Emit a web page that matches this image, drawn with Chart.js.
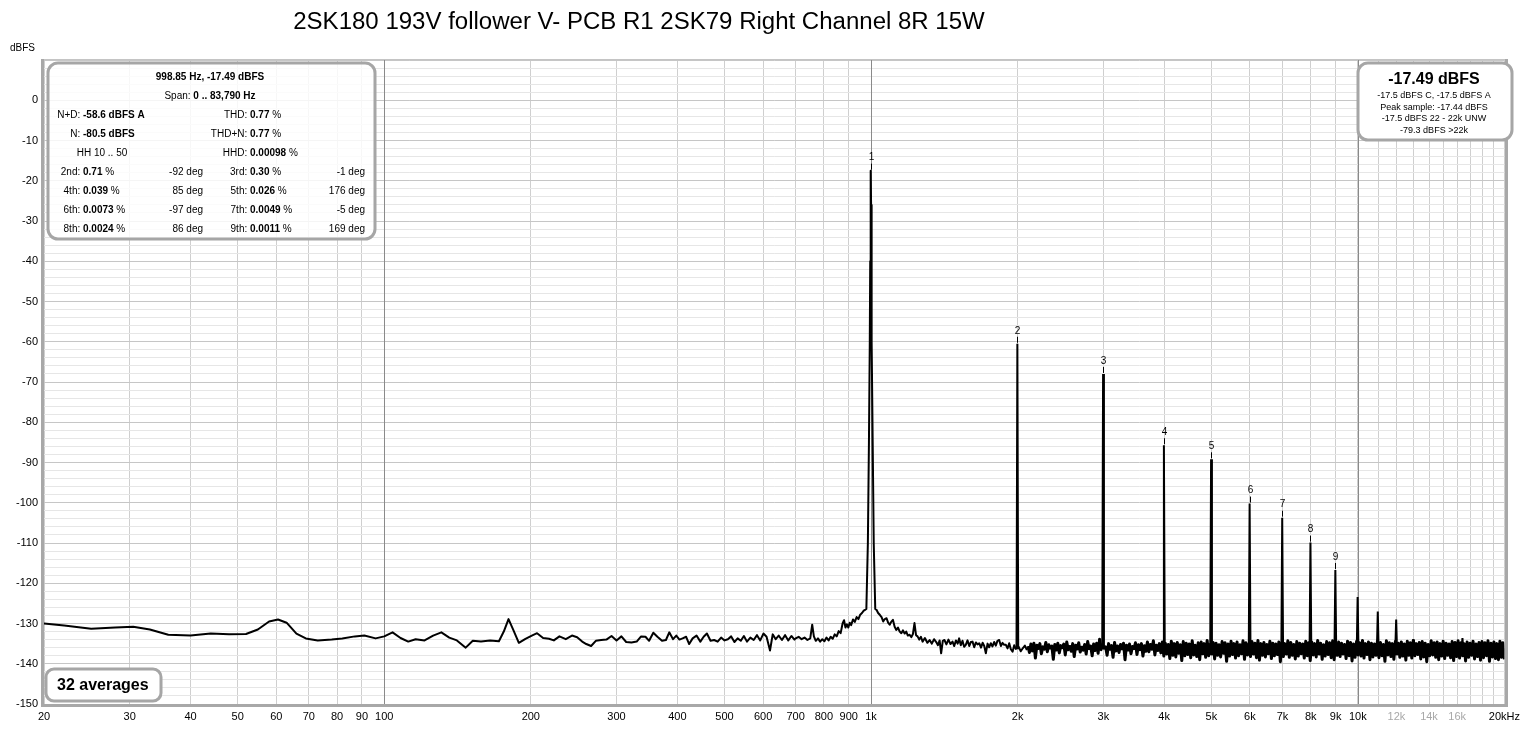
<!DOCTYPE html>
<html>
<head>
<meta charset="utf-8">
<title>2SK180 193V follower spectrum</title>
<script src="https://cdn.jsdelivr.net/npm/chart.js@4.4.1/dist/chart.umd.min.js"></script>
<style>
  html, body { margin: 0; padding: 0; background: #fff; }
  #wrap { width: 1526px; height: 729px; }
</style>
</head>
<body>
<div id="wrap"><canvas id="myChartArea" width="1526" height="729"></canvas></div>
<script>
var chartTitle = '2SK180 193V follower V- PCB R1 2SK79 Right Channel 8R 15W';
var FONT = '"Liberation Sans", Arial, sans-serif';

// spectrum, 20 Hz .. 2.1 kHz
var curveHz = [
  20, 22, 25, 28, 30.5, 33, 36, 40, 44, 48, 52, 55, 58, 60.5, 63, 66, 69, 73, 78, 82,
  87, 91, 96, 100, 104, 108, 112, 116, 121, 126, 131, 136, 141, 147, 152, 158, 165, 172, 176, 180,
  184, 189, 195, 201, 206, 212, 218, 223, 229, 236, 243, 249,
  255, 260, 266, 272, 279, 286, 293, 300, 307, 314, 322, 330, 337, 344, 350, 357, 364, 372,
  379, 385, 392, 398, 404, 410, 417, 423, 430, 438, 446, 453, 460, 468, 476, 484, 492, 500,
  508, 516, 524, 532, 540, 548, 556, 565, 574, 583, 592, 601, 610, 620, 628, 637, 646, 656,
  666, 676, 686, 696,
  700, 710, 720, 730, 740, 750, 757, 763, 770, 778, 786, 794, 802, 810, 818, 826, 834, 842,
  850, 858, 866, 874, 880, 886, 892, 898, 904, 910, 918, 926, 934, 942, 950, 958, 966, 972,
  978, 985, 990, 994, 996, 997.5, 998.85, 1000.2, 1001.7, 1003.7, 1007.7, 1012.7, 1020,
  1026, 1034, 1043, 1051, 1059, 1067, 1076, 1084, 1092, 1100, 1109, 1118, 1127, 1136, 1145, 1154,
  1163, 1172, 1181, 1190, 1200, 1210, 1219, 1228, 1237, 1246, 1256, 1266, 1276,
  1290, 1305, 1319, 1333, 1347, 1361, 1372, 1383, 1393, 1404, 1415, 1428, 1442, 1456, 1470, 1482,
  1494, 1506, 1517, 1529, 1541, 1553, 1565, 1578, 1591, 1603, 1616, 1629, 1642, 1655, 1668, 1682,
  1695, 1708, 1721, 1735, 1748, 1762, 1776, 1790, 1804, 1818, 1833, 1848, 1862, 1877, 1892, 1907,
  1922, 1937, 1953, 1968, 1983, 2010, 2030, 2051, 2070, 2090
];
var curveDb = [
  -130.0, -130.5, -131.3, -131.0, -130.8, -131.5, -132.8, -133.0, -132.5, -132.7, -132.6, -131.5, -129.5, -129.0, -129.8, -132.5, -133.7, -134.2, -134.0, -133.7,
  -133.2, -133.0, -133.7, -133.2, -132.2, -133.6, -134.5, -133.9, -134.2, -133.0, -132.2, -133.5, -134.2, -136.0, -134.3, -134.5, -134.2, -134.4, -132.0, -128.9,
  -131.5, -134.8, -133.8, -133.0, -132.4, -133.6, -133.8, -134.2, -133.2, -133.9, -133.0, -133.4,
  -134.5, -135.1, -135.6, -134.3, -134.1, -134.0, -133.1, -134.2, -133.2, -134.6, -134.7, -134.5, -133.2, -133.3, -134.3, -132.3, -133.3, -134.3,
  -134.1, -132.2, -133.9, -133.0, -134.0, -133.7, -133.3, -135.1, -133.7, -133.0, -134.5, -133.3, -132.5, -134.3, -134.1, -134.5, -133.5, -134.2,
  -133.9, -133.2, -134.6, -133.7, -134.3, -133.1, -134.5, -133.5, -134.1, -132.9, -134.2, -132.5, -133.3, -136.7, -132.7, -133.9, -133.0, -134.1,
  -132.9, -134.2, -133.1, -134.0,
  -133.7, -133.3, -133.9, -133.5, -134.1, -133.7, -130.3, -133.2, -134.3, -133.7, -134.5, -133.9, -134.4, -133.5, -134.2, -133.3, -133.8, -132.7,
  -133.2, -131.9, -132.4, -130.0, -129.2, -131.0, -130.2, -131.0, -129.8, -130.4, -129.0, -129.6, -128.4, -128.9, -127.8, -127.4, -126.8, -126.6,
  -126.4, -110, -85, -60, -40, -26, -17.49, -26, -40, -60, -85, -110, -126.4,
  -126.6, -127.4, -127.9, -128.4, -129.5, -128.9, -128.7, -129.8, -130.3, -129.6, -129.1, -130.8, -131.6, -131.0, -132.0, -132.4,
  -131.7, -132.5, -132.0, -133.0, -132.8, -133.4, -132.6, -129.9, -132.9, -133.2, -134.0, -133.3, -134.5,
  -133.6, -134.8, -134.1, -135.0, -133.9, -134.6, -135.4, -134.2, -137.4, -134.3, -134.1, -135.2, -134.0, -135.1, -134.5, -135.6,
  -134.2, -135.0, -133.7, -135.4, -134.3, -135.8, -135.3, -134.2, -135.6, -134.6, -134.5, -135.9, -134.7, -135.2, -134.9, -136.0,
  -134.8, -135.6, -137.4, -135.0, -135.9, -134.9, -135.7, -134.6, -135.5, -134.3, -134.1, -135.6, -134.8, -135.3, -135.3, -136.2,
  -134.9, -136.4, -137.0, -135.4, -136.3, -135.8, -136.9, -136.1, -135.5, -136.6
];

// noise floor 2.1 kHz .. 20 kHz, read left to right, one value per step on the log axis
var floorStartHz = 2100;
var floorEndHz = 20000;
var floorDb = [
  -135.6, -137.2, -135.1, -136.8, -134.9, -138.6, -135.4, -136.2, -135.0, -137.5,
  -135.8, -136.4, -134.7, -137.0, -135.3, -136.1, -135.6, -138.9, -135.2, -136.6,
  -134.9, -137.3, -135.5, -136.0, -135.1, -137.8, -134.6, -136.5, -135.7, -136.9,
  -135.0, -138.2, -135.4, -136.3, -134.8, -137.1, -135.9, -136.6, -135.2, -137.6,
  -134.5, -136.2, -135.6, -138.0, -135.1, -136.7, -134.9, -137.4, -133.9, -136.5,
  -135.3, -136.1, -135.8, -137.9, -135.0, -136.4, -135.5, -138.4, -134.7, -136.8,
  -135.6, -137.2, -135.2, -136.3, -134.9, -139.0, -135.4, -136.6, -135.1, -137.5,
  -135.7, -136.2, -134.8, -137.7, -135.3, -136.5, -135.0, -138.1, -135.5, -136.9,
  -134.6, -137.0, -135.2, -136.4, -134.3, -137.8, -135.4, -136.7, -135.0, -137.3,
  -134.6, -138.1, -134.9, -137.6, -135.2, -138.7, -134.4, -137.9, -135.0, -138.3,
  -134.7, -137.4, -135.3, -139.2, -134.5, -138.0, -134.9, -137.7, -135.1, -138.5,
  -134.3, -137.8, -135.4, -138.2, -134.8, -139.0, -134.6, -137.5, -135.0, -138.4,
  -134.2, -138.0, -135.2, -137.6, -134.7, -138.8, -134.9, -137.9, -135.3, -138.3,
  -134.5, -137.4, -134.8, -139.4, -135.1, -138.1, -134.4, -137.7, -135.0, -138.6,
  -134.6, -138.0, -135.3, -137.5, -134.3, -138.9, -134.8, -137.8, -135.1, -138.2,
  -134.5, -137.6, -134.9, -138.5, -134.2, -139.1, -135.0, -137.9, -134.7, -138.3,
  -135.2, -137.5, -134.4, -138.7, -134.9, -138.0, -135.1, -137.7, -134.6, -139.5,
  -134.8, -138.2, -135.0, -137.6, -134.3, -138.4, -134.7, -137.9, -135.2, -138.8,
  -134.5, -138.1, -134.9, -137.5, -135.1, -138.6, -134.4, -138.0, -134.8, -139.2,
  -134.6, -137.8, -135.0, -138.3, -134.2, -137.6, -134.9, -138.9, -135.3, -138.1,
  -134.5, -137.7, -134.8, -138.5, -134.3, -139.0, -135.0, -137.9, -134.6, -138.2,
  -134.9, -137.6, -135.2, -138.7, -134.4, -138.0, -134.7, -139.3, -135.1, -138.4,
  -134.5, -137.8, -134.8, -138.1, -134.2, -138.6, -135.0, -137.7, -134.6, -139.0,
  -134.9, -138.3, -135.1, -137.9, -134.4, -138.5, -134.7, -138.0, -135.2, -139.4,
  -134.3, -137.8, -134.8, -138.2, -135.0, -138.9, -134.5, -137.6, -134.9, -138.4,
  -134.6, -138.1, -135.1, -139.1, -134.4, -137.9, -134.8, -138.6, -134.2, -138.0,
  -135.0, -137.7, -134.7, -138.8, -134.5, -138.3, -134.9, -139.5, -135.2, -138.0,
  -134.3, -137.8, -134.8, -138.4, -134.6, -139.0, -135.0, -138.1, -134.4, -138.7,
  -134.9, -137.9, -135.1, -138.5, -134.5, -139.2, -134.7, -138.2, -134.3, -138.6,
  -134.8, -138.0, -135.0, -139.3, -134.6, -138.4, -134.9, -137.9, -134.4, -138.8,
  -135.1, -138.2, -134.7, -139.1, -134.5, -138.5, -134.8, -138.0, -134.3, -139.4,
  -134.9, -138.3, -134.6, -138.7, -135.0, -139.0, -134.4, -138.4, -134.8, -138.9
];

// fundamental + harmonics, then two small spurs
var harmHz = [998.85, 1997.7, 2996.55, 3995.4, 4994.25, 5993.1, 6991.95, 7990.8, 8989.65, 9988.5, 10987.35, 11986.2, 12985.05, 16400];
var harmDb = [-17.49, -60.5, -68.0, -85.7, -89.2, -100.2, -103.7, -109.9, -116.7, -123.4, -127.0, -129.0, -134.0, -133.6];
var harmLabel = ['1', '2', '3', '4', '5', '6', '7', '8', '9'];

// axis ticks
var xTickHz = [20, 30, 40, 50, 60, 70, 80, 90, 100, 200, 300, 400, 500, 600, 700, 800, 900,
  1000, 2000, 3000, 4000, 5000, 6000, 7000, 8000, 9000, 10000, 11000, 12000, 13000, 14000,
  15000, 16000, 17000, 18000, 19000, 20000];
var xTickText = ['20', '30', '40', '50', '60', '70', '80', '90', '100', '200', '300', '400', '500', '600', '700', '800', '900',
  '1k', '2k', '3k', '4k', '5k', '6k', '7k', '8k', '9k', '10k', '', '12k', '', '14k',
  '', '16k', '', '', '', '20kHz'];
var xDimText = ['12k', '14k', '16k'];
var xDarkHz = [100, 1000, 10000];
var yLabelDb = [0, -10, -20, -30, -40, -50, -60, -70, -80, -90, -100, -110, -120, -130, -140, -150];

// info boxes
var infoHead = '998.85 Hz, -17.49 dBFS';
var infoSpan = [['Span: ', false], ['0 .. 83,790 Hz', true]];
var infoRows = [
  ['N+D:', '-58.6 dBFS A', '', '', 'THD:', '0.77', ' %', ''],
  ['N:', '-80.5 dBFS', '', '', 'THD+N:', '0.77', ' %', ''],
  ['', '', '', '', 'HHD:', '0.00098', ' %', ''],
  ['2nd:', '0.71', ' %', '-92 deg', '3rd:', '0.30', ' %', '-1 deg'],
  ['4th:', '0.039', ' %', '85 deg', '5th:', '0.026', ' %', '176 deg'],
  ['6th:', '0.0073', ' %', '-97 deg', '7th:', '0.0049', ' %', '-5 deg'],
  ['8th:', '0.0024', ' %', '86 deg', '9th:', '0.0011', ' %', '169 deg']
];
var infoHH = 'HH 10 .. 50';
var levelMain = '-17.49 dBFS';
var levelLines = ['-17.5 dBFS C, -17.5 dBFS A', 'Peak sample: -17.44 dBFS', '-17.5 dBFS 22 - 22k UNW', '-79.3 dBFS >22k'];
var averagesText = '32 averages';

// ---- build datasets ----
var curvePts = curveHz.map(function (f, i) { return { x: f, y: curveDb[i] }; });

var floorPts = [];
var span = Math.log(floorEndHz / floorStartHz);
for (var i = 0; i < floorDb.length; i++) {
  floorPts.push({ x: floorStartHz * Math.exp(span * i / (floorDb.length - 1)), y: floorDb[i] });
}

var spikePts = [];
for (var h = 1; h < harmHz.length; h++) {
  spikePts.push({ x: harmHz[h] * 0.996, y: -136.2 });
  spikePts.push({ x: harmHz[h], y: harmDb[h] });
  spikePts.push({ x: harmHz[h] * 1.004, y: -136.4 });
  spikePts.push({ x: harmHz[h] * 1.005, y: null });
}

function drawRuns(ctx, parts, x, y, align, size) {
  var w = 0;
  parts.forEach(function (p) {
    ctx.font = (p[1] ? 'bold ' : '') + size + 'px ' + FONT;
    w += ctx.measureText(p[0]).width;
  });
  var cx = align === 'center' ? x - w / 2 : (align === 'right' ? x - w : x);
  ctx.textAlign = 'left';
  parts.forEach(function (p) {
    ctx.font = (p[1] ? 'bold ' : '') + size + 'px ' + FONT;
    ctx.fillText(p[0], cx, y);
    cx += ctx.measureText(p[0]).width;
  });
}

function roundBox(ctx, x, y, w, hgt, r, fill) {
  ctx.beginPath();
  ctx.moveTo(x + r, y);
  ctx.arcTo(x + w, y, x + w, y + hgt, r);
  ctx.arcTo(x + w, y + hgt, x, y + hgt, r);
  ctx.arcTo(x, y + hgt, x, y, r);
  ctx.arcTo(x, y, x + w, y, r);
  ctx.closePath();
  ctx.fillStyle = fill;
  ctx.fill();
  ctx.lineWidth = 3;
  ctx.strokeStyle = '#a6a6a6';
  ctx.stroke();
}

var decorations = {
  id: 'decorations',
  beforeDatasetsDraw: function (chart) {
    // decade lines stay solid over the light grid
    var ctx = chart.ctx, xs = chart.scales.x, a = chart.chartArea;
    ctx.save();
    ctx.strokeStyle = '#8a8a8a';
    ctx.lineWidth = 1;
    xDarkHz.forEach(function (v) {
      var px = Math.round(xs.getPixelForValue(v)) + 0.5;
      ctx.beginPath();
      ctx.moveTo(px, a.top);
      ctx.lineTo(px, a.bottom);
      ctx.stroke();
    });
    ctx.restore();
  },
  afterDatasetsDraw: function (chart) {
    var ctx = chart.ctx, xs = chart.scales.x, ys = chart.scales.y;
    ctx.save();
    ctx.fillStyle = '#000';
    ctx.textBaseline = 'middle';

    // peak numbers
    ctx.font = '10px ' + FONT;
    ctx.textAlign = 'center';
    ctx.strokeStyle = '#000';
    ctx.lineWidth = 1;
    for (var k = 0; k < harmLabel.length; k++) {
      var px = Math.round(xs.getPixelForValue(harmHz[k])) + 0.5;
      var py = ys.getPixelForValue(harmDb[k]);
      ctx.fillText(harmLabel[k], px, py - 13);
      ctx.beginPath();
      ctx.moveTo(px, py - 7);
      ctx.lineTo(px, py - 1);
      ctx.stroke();
    }

    // frame
    ctx.fillStyle = '#c4c4c4';
    ctx.fillRect(44, 59, 1461, 1);
    ctx.fillStyle = '#a8a8a8';
    ctx.fillRect(41, 59, 3, 648);
    ctx.fillRect(41, 704, 1467, 3);
    ctx.fillRect(1505, 59, 3, 648);

    // title and axis unit
    ctx.fillStyle = '#000';
    ctx.font = '20px ' + FONT;
    var tw = ctx.measureText(chartTitle).width;
    ctx.font = (20 * 692 / tw).toFixed(2) + 'px ' + FONT;
    ctx.textAlign = 'center';
    ctx.fillText(chartTitle, 639, 22);
    ctx.font = '10px ' + FONT;
    ctx.textAlign = 'left';
    ctx.fillText('dBFS', 10, 48);

    // measurement box
    roundBox(ctx, 48, 63, 327, 176, 10, 'rgba(255,255,255,0.82)');
    ctx.fillStyle = '#000';
    drawRuns(ctx, [[infoHead, true]], 210, 77, 'center', 10);
    drawRuns(ctx, infoSpan, 210, 96, 'center', 10);
    for (var r = 0; r < infoRows.length; r++) {
      var row = infoRows[r], ry = 115 + r * 19;
      if (row[0]) drawRuns(ctx, [[row[0] + ' ', false]], 83, ry, 'right', 10);
      if (row[1]) drawRuns(ctx, [[row[1], true], [row[2], false]], 83, ry, 'left', 10);
      if (row[3]) drawRuns(ctx, [[row[3], false]], 203, ry, 'right', 10);
      drawRuns(ctx, [[row[4] + ' ', false]], 250, ry, 'right', 10);
      drawRuns(ctx, [[row[5], true], [row[6], false]], 250, ry, 'left', 10);
      if (row[7]) drawRuns(ctx, [[row[7], false]], 365, ry, 'right', 10);
    }
    drawRuns(ctx, [[infoHH, false]], 102, 153, 'center', 10);

    // level box
    roundBox(ctx, 1358, 63, 154, 77, 10, '#fff');
    ctx.fillStyle = '#000';
    drawRuns(ctx, [[levelMain, true]], 1434, 80, 'center', 16);
    for (var l = 0; l < levelLines.length; l++) {
      drawRuns(ctx, [[levelLines[l], false]], 1434, 96 + l * 11.5, 'center', 9);
    }

    // averages box
    roundBox(ctx, 46, 669, 115, 32, 8, '#fff');
    ctx.fillStyle = '#000';
    drawRuns(ctx, [[averagesText, true]], 57, 686, 'left', 16);
    ctx.restore();
  }
};

var ctx_spec = document.getElementById('myChartArea');
var chart_spec = new Chart(ctx_spec, {
  type: 'line',
  data: {
    datasets: [
      { data: curvePts, borderColor: '#000', borderWidth: 2, borderJoinStyle: 'round', pointRadius: 0, tension: 0 },
      { data: floorPts, borderColor: '#000', borderWidth: 3, borderJoinStyle: 'round', pointRadius: 0, tension: 0 },
      { data: spikePts, borderColor: '#000', borderWidth: 2, borderJoinStyle: 'bevel', pointRadius: 0, tension: 0, spanGaps: false }
    ]
  },
  options: {
    responsive: false,
    animation: false,
    events: [],
    layout: { padding: { top: 60, right: 21, left: 0, bottom: 0 } },
    plugins: { legend: { display: false }, title: { display: false }, tooltip: { enabled: false } },
    scales: {
      x: {
        type: 'logarithmic',
        min: 20,
        max: 20000,
        afterBuildTicks: function (s) { s.ticks = xTickHz.map(function (v) { return { value: v }; }); },
        afterFit: function (s) { s.height = 25; },
        border: { display: false },
        grid: {
          drawTicks: false,
          lineWidth: 1,
          color: '#cfcfcf'
        },
        ticks: {
          autoSkip: false,
          maxRotation: 0,
          padding: 6,
          font: { family: FONT, size: 11 },
          color: function (c) {
            var t = xTickText[xTickHz.indexOf(c.tick.value)];
            return xDimText.indexOf(t) >= 0 ? '#a8a8a8' : '#000';
          },
          callback: function (v) {
            var i = xTickHz.indexOf(v);
            return i >= 0 ? xTickText[i] : '';
          }
        }
      },
      y: {
        type: 'linear',
        min: -150,
        max: 10,
        afterBuildTicks: function (s) {
          var t = [];
          for (var v = -150; v <= 10; v += 2) t.push({ value: v });
          s.ticks = t;
        },
        afterFit: function (s) { s.width = 44; },
        border: { display: false },
        grid: {
          drawTicks: false,
          color: function (c) {
            var v = c.tick ? c.tick.value : 1;
            return v % 10 === 0 ? '#c6c6c6' : '#e6e6e6';
          }
        },
        ticks: {
          autoSkip: false,
          padding: 6,
          font: { family: FONT, size: 11 },
          color: '#000',
          callback: function (v) { return yLabelDb.indexOf(v) >= 0 ? String(v) : ''; }
        }
      }
    }
  },
  plugins: [decorations]
});
</script>
</body>
</html>
